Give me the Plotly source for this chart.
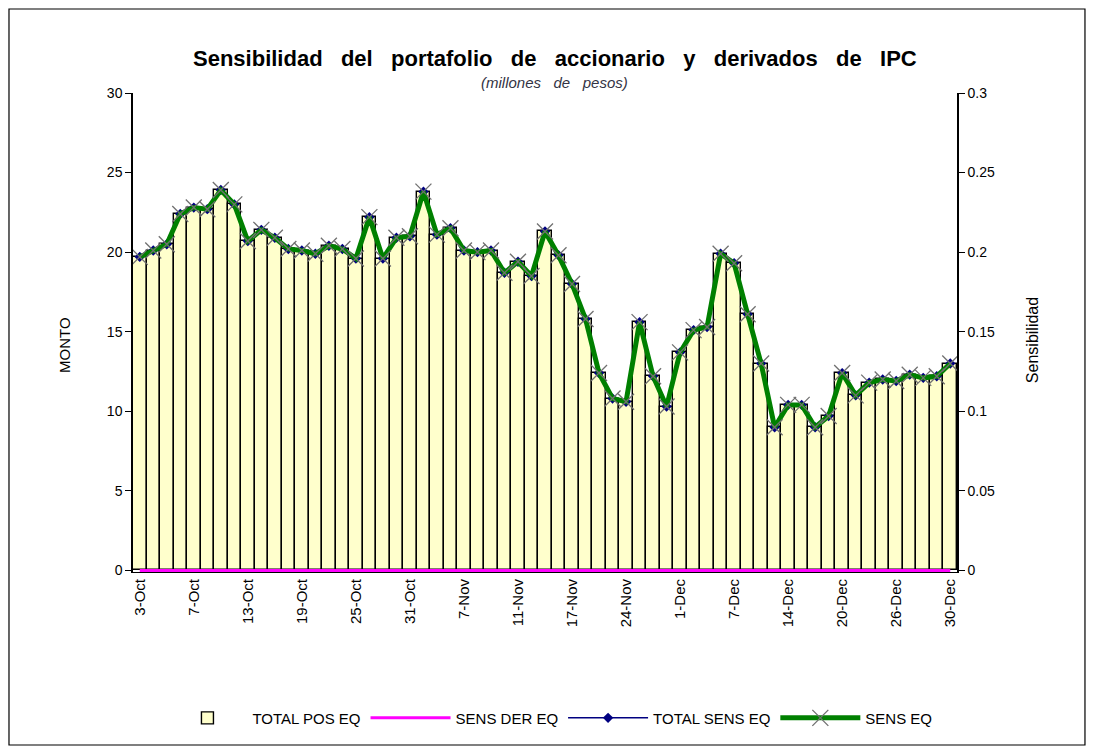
import plotly.graph_objects as go

fechas = ["3-Oct", "4-Oct", "5-Oct", "6-Oct", "7-Oct", "10-Oct", "11-Oct", "12-Oct", "13-Oct", "14-Oct",
          "17-Oct", "18-Oct", "19-Oct", "20-Oct", "21-Oct", "24-Oct", "25-Oct", "26-Oct", "27-Oct", "28-Oct",
          "31-Oct", "1-Nov", "3-Nov", "4-Nov", "7-Nov", "8-Nov", "9-Nov", "10-Nov", "11-Nov", "14-Nov",
          "15-Nov", "16-Nov", "17-Nov", "18-Nov", "22-Nov", "23-Nov", "24-Nov", "28-Nov", "29-Nov", "30-Nov",
          "1-Dec", "2-Dec", "5-Dec", "6-Dec", "7-Dec", "8-Dec", "9-Dec", "13-Dec", "14-Dec", "15-Dec",
          "16-Dec", "19-Dec", "20-Dec", "21-Dec", "22-Dec", "23-Dec", "26-Dec", "27-Dec", "28-Dec", "29-Dec",
          "30-Dec"]

total_pos_eq = [19.7, 20.1, 20.5, 22.4, 22.8, 22.7, 23.9, 23.0, 20.7, 21.4,
                20.9, 20.2, 20.1, 19.9, 20.4, 20.2, 19.6, 22.2, 19.6, 20.9,
                21.0, 23.8, 21.1, 21.5, 20.1, 20.0, 20.1, 18.7, 19.4, 18.5,
                21.3, 19.8, 18.0, 15.8, 12.4, 10.8, 10.6, 15.6, 12.2, 10.3,
                13.7, 15.1, 15.3, 19.9, 19.3, 16.1, 13.0, 9.0, 10.4, 10.4,
                9.0, 9.7, 12.4, 11.0, 11.8, 12.0, 11.9, 12.3, 12.1, 12.2,
                13.0]

sens_der_eq = [0.0] * 61

total_sens_eq = [0.197, 0.201, 0.205, 0.224, 0.228, 0.227, 0.239, 0.230, 0.207, 0.214,
                 0.209, 0.202, 0.201, 0.199, 0.204, 0.202, 0.196, 0.222, 0.196, 0.209,
                 0.210, 0.238, 0.211, 0.215, 0.201, 0.200, 0.201, 0.187, 0.194, 0.185,
                 0.213, 0.198, 0.180, 0.158, 0.124, 0.108, 0.106, 0.156, 0.122, 0.103,
                 0.137, 0.151, 0.153, 0.199, 0.193, 0.161, 0.130, 0.090, 0.104, 0.104,
                 0.090, 0.097, 0.124, 0.110, 0.118, 0.120, 0.119, 0.123, 0.121, 0.122,
                 0.130]

sens_eq = [0.197, 0.201, 0.205, 0.224, 0.228, 0.227, 0.239, 0.230, 0.207, 0.214,
           0.209, 0.202, 0.201, 0.199, 0.204, 0.202, 0.196, 0.222, 0.196, 0.209,
           0.210, 0.238, 0.211, 0.215, 0.201, 0.200, 0.201, 0.187, 0.194, 0.185,
           0.213, 0.198, 0.180, 0.158, 0.124, 0.108, 0.106, 0.156, 0.122, 0.103,
           0.137, 0.151, 0.153, 0.199, 0.193, 0.161, 0.130, 0.090, 0.104, 0.104,
           0.090, 0.097, 0.124, 0.110, 0.118, 0.120, 0.119, 0.123, 0.121, 0.122,
           0.130]

left_ticks = [0, 5, 10, 15, 20, 25, 30]
right_ticks = [0, 0.05, 0.1, 0.15, 0.2, 0.25, 0.3]
right_ticktext = ["0", "0.05", "0.1", "0.15", "0.2", "0.25", "0.3"]

FONT = "Arial, Liberation Sans, sans-serif"
SP = "\u00a0\u00a0 "
titulo = SP.join("Sensibilidad del portafolio de accionario y derivados de IPC".split(" "))
subtitulo = SP.join("(millones de pesos)".split(" "))

fig = go.Figure()
fig.add_trace(go.Bar(x=fechas, y=total_pos_eq, name="TOTAL POS EQ",
                     marker=dict(color="#FFFFCC", line=dict(color="black", width=1.4)),
                     yaxis="y"))
fig.add_trace(go.Scatter(x=fechas, y=sens_der_eq, name="SENS DER EQ", mode="lines",
                         line=dict(color="#FF00FF", width=3), yaxis="y2"))
fig.add_trace(go.Scatter(x=fechas, y=total_sens_eq, name="TOTAL SENS EQ", mode="lines+markers",
                         line=dict(color="#000080", width=1.5),
                         marker=dict(symbol="diamond", size=8, color="#000080"), yaxis="y2"))
fig.add_trace(go.Scatter(x=fechas, y=sens_eq, name="SENS EQ", mode="lines+markers",
                         line=dict(color="#008000", width=5),
                         marker=dict(symbol="x-thin", size=16, color="#808080",
                                     line=dict(color="#707070", width=1.3)), yaxis="y2"))

# Figure is placed 8px from the page corner by the browser's default body margin
fig.update_layout(
    width=1086, height=746,
    margin=dict(l=125, r=137, t=85, b=182, autoexpand=False),
    paper_bgcolor="white", plot_bgcolor="white",
    font=dict(family=FONT, size=14, color="black"),
    bargap=0,
    showlegend=True,
    legend=dict(orientation="h", x=0.506, y=-0.305, xanchor="center", yanchor="middle",
                font=dict(size=15), itemwidth=80, tracegroupgap=0),
    xaxis=dict(type="category", tickmode="array", tickvals=fechas[::4], ticktext=fechas[::4],
               tickangle=-90, tickfont=dict(size=15), showline=True, linecolor="black",
               linewidth=1, ticks="", showgrid=False, zeroline=False, range=[-0.5, 60.5],
               layer="below traces"),
    yaxis=dict(range=[-0.1, 30], tickvals=left_ticks, showline=True, linecolor="black", linewidth=1.5,
               ticks="outside", ticklen=6, tickcolor="black", showgrid=False, zeroline=False,
               tickfont=dict(size=14)),
    yaxis2=dict(range=[-0.001, 0.3], tickvals=right_ticks, ticktext=right_ticktext, overlaying="y",
                side="right", showline=True, linecolor="black", linewidth=1.5,
                ticks="outside", ticklen=6, tickcolor="black", showgrid=False, zeroline=False,
                tickfont=dict(size=14)),
    annotations=[
        dict(text="<b>" + titulo + "</b>",
             x=0.512, y=1.073, xref="paper", yref="paper", showarrow=False,
             font=dict(size=22, family=FONT, color="black"), xanchor="center", yanchor="middle"),
        dict(text="<i>" + subtitulo + "</i>", x=0.512, y=1.021, xref="paper", yref="paper",
             showarrow=False, font=dict(size=15, family=FONT, color="#333344"),
             xanchor="center", yanchor="middle"),
        dict(text="MONTO", x=-0.0825, y=0.474, xref="paper", yref="paper", showarrow=False,
             textangle=-90, font=dict(size=15, family=FONT), xanchor="center", yanchor="middle"),
        dict(text="Sensibilidad", x=1.091, y=0.484, xref="paper", yref="paper", showarrow=False,
             textangle=-90, font=dict(size=16, family=FONT), xanchor="center", yanchor="middle"),
    ],
    shapes=[dict(type="rect", xref="paper", yref="paper", x0=-0.1505, x1=1.1553, y0=-0.3612,
                 y1=1.1754, line=dict(color="black", width=1.2), fillcolor="rgba(0,0,0,0)",
                 layer="below")],
)

fig.write_html("out.html")
